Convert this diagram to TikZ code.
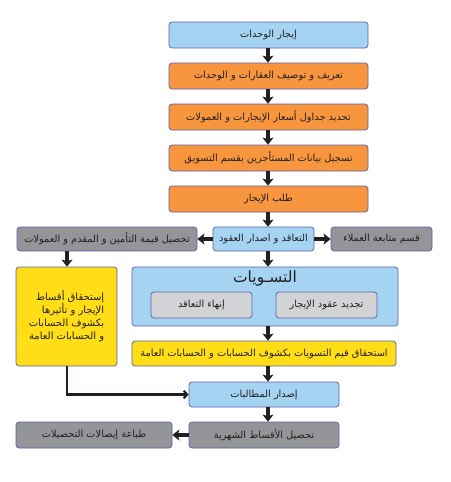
\documentclass[tikz,border=0pt]{standalone}
\usepackage{fontspec}
\setmainfont{DejaVu Sans}
\newfontfamily\arfont[Script=Arabic]{DejaVu Sans}
\TeXXeTstate=1
\usetikzlibrary{arrows.meta}
\definecolor{blueb}{HTML}{A5D3F2}
\definecolor{orangeb}{HTML}{F7963E}
\definecolor{grayb}{HTML}{939598}
\definecolor{lgrayb}{HTML}{D2D3D5}
\definecolor{yellowb}{HTML}{FFDE17}
\definecolor{bordc}{HTML}{5B5FA8}
\definecolor{inkc}{HTML}{231F20}
\newcommand{\artxt}[1]{\beginR #1\endR}
\tikzset{
  box/.style={draw=bordc, line width=0.7pt, rounded corners=3pt, inner sep=1pt,
    text=inkc, font=\arfont\fontsize{9.8}{11}\selectfont},
  fatarrow/.style={draw=inkc, line width=3.5pt, -{Stealth[length=7pt,width=11pt,inset=1.5pt]}},
  thinarrow/.style={draw=inkc, line width=2.2pt, -{Straight Barb[length=3.5pt,width=7.5pt]}},
}
\begin{document}
\begin{tikzpicture}[x=1pt,y=-1pt]
\useasboundingbox (0,0) rectangle (450,482);
\coordinate (ax) at (268,0);
\coordinate (yx) at (67,0);
% main column
\node[box, fill=blueb, minimum width=199, minimum height=26] (b1) at (268.5,35) {\artxt{إيجار الوحدات}};
\node[box, fill=orangeb, minimum width=199, minimum height=26] (b2) at (268.5,76) {\artxt{تعريف و توصيف العقارات و الوحدات}};
\node[box, fill=orangeb, minimum width=199, minimum height=26] (b3) at (268.5,117) {\artxt{تحديد جداول أسعار الإيجارات و العمولات}};
\node[box, fill=orangeb, minimum width=199, minimum height=26] (b4) at (268.5,158) {\artxt{تسجيل بيانات المستأجرين بقسم التسويق}};
\node[box, fill=orangeb, minimum width=199, minimum height=26] (b5) at (268.5,199) {\artxt{طلب الإيجار}};
% contract row
\node[box, fill=blueb, minimum width=101, minimum height=24] (c6) at (263.5,239) {\artxt{التعاقد و اصدار العقود}};
\node[box, fill=grayb, minimum width=180, minimum height=24] (g7) at (107,239) {\artxt{تحصيل قيمة التأمين و المقدم و العمولات}};
\node[box, fill=grayb, minimum width=101, minimum height=24] (g8) at (381.5,239) {\artxt{قسم متابعة العملاء}};
% settlements
\node[box, fill=blueb, minimum width=266, minimum height=59] (s) at (265,296.5) {};
\node[text=inkc, font=\arfont\fontsize{15.5}{17}\selectfont] (st) at (265,278) {\artxt{التسـويات}};
\node[box, fill=lgrayb, minimum width=101, minimum height=26] (sl) at (201.5,305) {\artxt{إنهاء التعاقد}};
\node[box, fill=lgrayb, minimum width=101, minimum height=26] (sr) at (326.5,305) {\artxt{تجديد عقود الإيجار}};
% yellow
\node[box, fill=yellowb, minimum width=101, minimum height=99, align=right,
  font=\arfont\fontsize{10}{13}\selectfont] (y) at (66.5,316.5)
  {\artxt{إستحقاق أقساط}\\\artxt{الإيجار و تأثيرها}\\\artxt{بكشوف الحسابات}\\\artxt{و الحسابات العامة}};
\node[box, fill=yellowb, minimum width=264, minimum height=25] (w) at (264,353.5) {\artxt{استحقاق قيم التسويات بكشوف الحسابات و الحسابات العامة}};
% bottom
\node[box, fill=blueb, minimum width=150, minimum height=25] (e) at (264,394.5) {\artxt{إصدار المطالبات}};
\node[box, fill=grayb, minimum width=150, minimum height=26] (t) at (264,435) {\artxt{تحصيل الأقساط الشهرية}};
\node[box, fill=grayb, minimum width=156, minimum height=26] (p) at (94,435) {\artxt{طباعة إيصالات التحصيلات}};
% arrows
\draw[fatarrow] (b1.south -| ax) -- (b2.north -| ax);
\draw[fatarrow] (b2.south -| ax) -- (b3.north -| ax);
\draw[fatarrow] (b3.south -| ax) -- (b4.north -| ax);
\draw[fatarrow] (b4.south -| ax) -- (b5.north -| ax);
\draw[fatarrow] (b5.south -| ax) -- (c6.north -| ax);
\draw[fatarrow] (c6.west) -- (g7.east);
\draw[fatarrow] (c6.east) -- (g8.west);
\draw[fatarrow] (g7.south -| yx) -- (y.north -| yx);
\draw[fatarrow] (c6.south -| ax) -- (s.north -| ax);
\draw[fatarrow] (s.south -| ax) -- (w.north -| ax);
\draw[fatarrow] (w.south -| ax) -- (e.north -| ax);
\draw[fatarrow] (e.south -| ax) -- (t.north -| ax);
\draw[fatarrow] (t.west) -- (p.east);
\draw[thinarrow] (y.south -| yx) |- (e.west);
\end{tikzpicture}
\end{document}
